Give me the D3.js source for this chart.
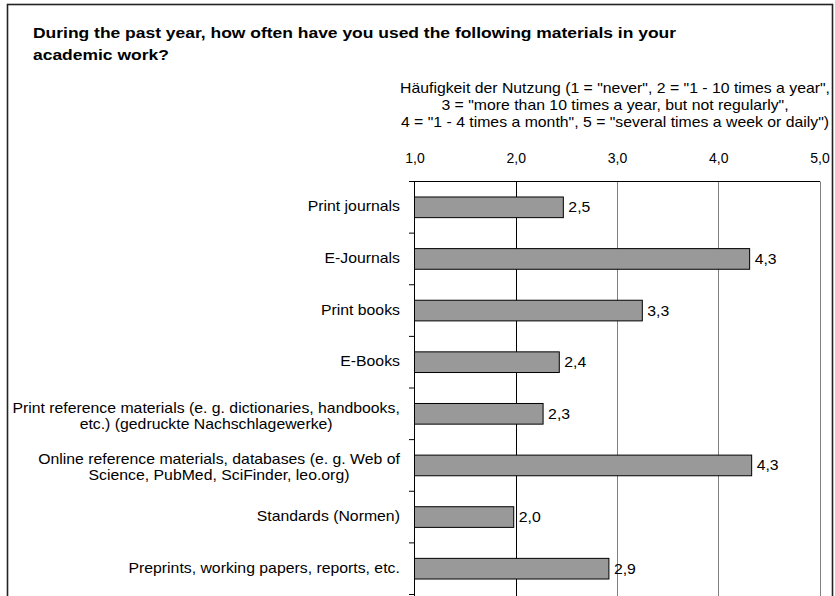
<!DOCTYPE html>
<html>
<head>
<meta charset="utf-8">
<script src="https://cdn.jsdelivr.net/npm/d3@7"></script>
<style>
  html, body { margin: 0; padding: 0; background: #fff; }
  svg { display: block; font-family: "Liberation Sans", Arial, sans-serif; }
</style>
</head>
<body>
<svg id="chart" width="835" height="596"></svg>
<script>
// Survey: mean frequency of use per material type (scale 1..5)
const categories = [
  ["Print journals"],
  ["E-Journals"],
  ["Print books"],
  ["E-Books"],
  ["Print reference materials (e. g. dictionaries, handbooks,", "etc.) (gedruckte Nachschlagewerke)"],
  ["Online reference materials, databases (e. g. Web of", "Science, PubMed, SciFinder, leo.org)"],
  ["Standards (Normen)"],
  ["Preprints, working papers, reports, etc."]
];
const meanValues = [2.47, 4.31, 3.25, 2.43, 2.27, 4.33, 1.98, 2.92];
const tickValues = [1, 2, 3, 4, 5];

const titleLines = [
  "During the past year, how often have you used the following materials in your",
  "academic work?"
];
const axisTitleLines = [
  "Häufigkeit der Nutzung (1 = \"never\", 2 = \"1 - 10 times a year\",",
  "3 = \"more than 10 times a year, but not regularly\",",
  "4 = \"1 - 4 times a month\", 5 = \"several times a week or daily\")"
];

const fmt = v => d3.format(".1f")(v).replace(".", ",");

// Text is set slightly wide, like the original report typeface
const WIDE = 1.13;
const TITLE_WIDE = 1.165;
const placeText = (sel, fx, fy, sx) =>
  sel.attr("transform", (d, i) => `translate(${fx(d, i)},${fy(d, i)}) scale(${sx},1)`);

const svg = d3.select("#chart");
const keys = categories.map((c, i) => i);

// Outer frame
svg.append("rect")
  .attr("x", 7.5).attr("y", 4.5)
  .attr("width", 825).attr("height", 600)
  .attr("fill", "#fff")
  .attr("stroke", "#222").attr("stroke-width", 1.6);

// Title
svg.append("g").selectAll("text").data(titleLines).join("text")
  .call(placeText, () => 33, (d, i) => 37.5 + i * 22, TITLE_WIDE)
  .attr("font-size", 15).attr("font-weight", "bold").attr("fill", "#000")
  .text(d => d);

// Axis title (centered block)
svg.append("g").selectAll("text").data(axisTitleLines).join("text")
  .call(placeText, () => 615, (d, i) => 92.5 + i * 17, WIDE)
  .attr("text-anchor", "middle")
  .attr("font-size", 14).attr("fill", "#000")
  .text(d => d);

const x = d3.scaleLinear().domain([1, 5]).range([414.5, 819.5]);
const y = d3.scaleBand().domain(keys).range([181.5, 594.5])
  .paddingInner(0.6).paddingOuter(0.3);

// Vertical gridlines
svg.append("g").selectAll("line").data(tickValues.slice(1)).join("line")
  .attr("x1", d => Math.round(x(d)) + 0.5).attr("x2", d => Math.round(x(d)) + 0.5)
  .attr("y1", y.range()[0]).attr("y2", 600)
  .attr("stroke", d => d === 2 ? "#000" : "#808080")
  .attr("stroke-width", 1);

// Top value axis
const xAxis = svg.append("g")
  .attr("transform", `translate(0,${y.range()[0]})`)
  .call(d3.axisTop(x).tickValues(tickValues).tickFormat(fmt).tickSize(0).tickPadding(19));
xAxis.select(".domain").remove();
xAxis.selectAll("text").attr("font-size", 14).attr("fill", "#000")
  .attr("font-family", "'Liberation Sans', Arial, sans-serif");
svg.append("line")
  .attr("x1", 409).attr("x2", x(5) + 0.5)
  .attr("y1", y.range()[0]).attr("y2", y.range()[0])
  .attr("stroke", "#000");

// Category axis line and band-boundary ticks
svg.append("line")
  .attr("x1", x(1)).attr("x2", x(1))
  .attr("y1", y.range()[0]).attr("y2", 600)
  .attr("stroke", "#000");
svg.append("g").selectAll("line").data(d3.range(keys.length + 1)).join("line")
  .attr("x1", 409).attr("x2", x(1))
  .attr("y1", i => y.range()[0] + i * y.step())
  .attr("y2", i => y.range()[0] + i * y.step())
  .attr("stroke", "#000");

// Bars
svg.append("g").selectAll("rect").data(meanValues).join("rect")
  .attr("x", x(1))
  .attr("y", (d, i) => y(i))
  .attr("width", d => x(d) - x(1))
  .attr("height", y.bandwidth())
  .attr("fill", "#999999")
  .attr("stroke", "#000").attr("stroke-width", 1);

// Value labels
svg.append("g").selectAll("text").data(meanValues).join("text")
  .call(placeText, d => x(d) + 5, (d, i) => y(i) + y.bandwidth() / 2 + 5, WIDE)
  .attr("font-size", 14).attr("fill", "#000")
  .text(d => fmt(d));

// Category labels: block right-aligned to the axis, lines centred within it
const labelG = svg.append("g");
const labelRight = 400;
categories.forEach((lines, i) => {
  const cy = y(i) + y.bandwidth() / 2;
  const lh = 16;
  const first = cy + 4 - (lines.length - 1) * lh / 2 + (lines.length > 1 ? 3 : 0);
  const texts = labelG.append("g").selectAll("text").data(lines).join("text")
    .attr("font-size", 14).attr("fill", "#000")
    .attr("text-anchor", "middle")
    .text(d => d);
  const maxW = d3.max(texts.nodes(), n => n.getComputedTextLength()) * WIDE;
  texts.call(placeText, () => labelRight - maxW / 2, (d, j) => first + j * lh, WIDE);
});
</script>
</body>
</html>
